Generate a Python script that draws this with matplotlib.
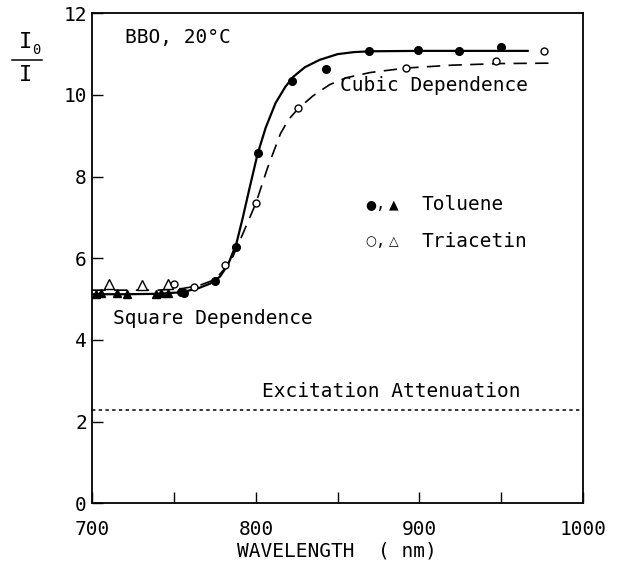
import matplotlib
matplotlib.use("Agg")
import matplotlib.pyplot as plt
from matplotlib.lines import Line2D

# ---- data ----
tol_circ_x = [754, 756, 775, 788, 801, 822, 843, 869, 899, 924, 950]
tol_circ_y = [5.17, 5.15, 5.45, 6.27, 8.57, 10.34, 10.63, 11.08, 11.10, 11.07, 11.18]
tol_tri_x = [702, 705, 715, 721, 739, 742, 746]
tol_tri_y = [5.13, 5.15, 5.14, 5.13, 5.12, 5.15, 5.15]

tri_circ_x = [750, 762, 781, 800, 826, 892, 947, 976]
tri_circ_y = [5.37, 5.30, 5.84, 7.36, 9.67, 10.65, 10.83, 11.08]
tri_tri_x = [710, 730, 746]
tri_tri_y = [5.36, 5.35, 5.38]

# fitted curves
fit_tol_x = [700, 720, 740, 755, 765, 772, 778, 783, 788, 792, 796, 801, 806,
             812, 818, 823, 830, 839, 850, 860, 870, 900, 967]
fit_tol_y = [5.12, 5.12, 5.13, 5.17, 5.27, 5.38, 5.55, 5.85, 6.35, 7.0, 7.7, 8.55,
             9.2, 9.8, 10.2, 10.45, 10.68, 10.86, 11.0, 11.05, 11.07, 11.08, 11.08]

fit_tri_x = [700, 720, 740, 755, 765, 775, 781, 786, 792, 800, 807, 815, 820,
             826, 835, 845, 855, 870, 892, 920, 950, 982]
fit_tri_y = [5.22, 5.22, 5.22, 5.26, 5.33, 5.48, 5.75, 6.05, 6.6, 7.35, 8.2, 9.05,
             9.4, 9.67, 9.98, 10.25, 10.42, 10.55, 10.66, 10.73, 10.77, 10.78]

atten_level = 2.28

x_ticks = [700, 750, 800, 850, 900, 950, 1000]
x_labels = ["700", "", "800", "", "900", "", "1000"]
y_ticks = [0, 2, 4, 6, 8, 10, 12]
y_labels = ["0", "2", "4", "6", "8", "10", "12"]

MONO = ["DejaVu Sans Mono", "DejaVu Sans"]
plt.rcParams["font.family"] = MONO

fig = plt.figure(figsize=(6.19, 5.84), dpi=100)
ax = fig.add_axes([0.1494, 0.1382, 0.9414 - 0.1494, 0.9772 - 0.1382])

ax.plot(fit_tol_x, fit_tol_y, color="black", lw=1.6, solid_capstyle="butt")
ax.plot(fit_tri_x, fit_tri_y, color="black", lw=1.2, ls=(0, (8, 5)))
ax.axhline(atten_level, color="black", lw=1.1, ls=(0, (2.2, 2.2)))

ax.plot(tol_tri_x, tol_tri_y, ls="none", marker="^", ms=6, color="black")
ax.plot(tri_tri_x, tri_tri_y, ls="none", marker="^", ms=6.5, mfc="white",
        mec="black", mew=1.0)
ax.plot(tol_circ_x, tol_circ_y, ls="none", marker="o", ms=5.5, color="black")
ax.plot(tri_circ_x, tri_circ_y, ls="none", marker="o", ms=5, mfc="white",
        mec="black", mew=1.0)

ax.set_xlim(700, 1000)
ax.set_ylim(0, 12)
ax.set_xticks(x_ticks)
ax.set_xticklabels(x_labels)
ax.set_yticks(y_ticks)
ax.set_yticklabels(y_labels)
ax.tick_params(direction="in", length=8, width=1.0, labelsize=14)
ax.tick_params(axis="x", pad=12)
ax.tick_params(axis="y", pad=4)
for s in ax.spines.values():
    s.set_linewidth(1.3)

fs = 14
ax.text(720, 11.4, "BBO, 20°C", fontsize=fs, va="center", ha="left")
ax.text(851.5, 10.24, "Cubic Dependence", fontsize=fs, va="center", ha="left")
ax.text(712.8, 4.53, "Square Dependence", fontsize=fs, va="center", ha="left")
ax.text(803.7, 2.73, "Excitation Attenuation", fontsize=fs, va="center", ha="left")

# key
ax.text(870.3, 7.31, "●", fontsize=9, va="center", ha="center", family=["DejaVu Sans"])
ax.text(876.5, 7.2, ",", fontsize=11, va="baseline", ha="center")
ax.text(884.2, 7.31, "▲", fontsize=9, va="center", ha="center", family=["DejaVu Sans"])
ax.text(901.6, 7.31, "Toluene", fontsize=fs, va="center", ha="left")
ax.text(870.3, 6.41, "○", fontsize=9, va="center", ha="center", family=["DejaVu Sans"])
ax.text(876.5, 6.3, ",", fontsize=11, va="baseline", ha="center")
ax.text(884.2, 6.41, "△", fontsize=9, va="center", ha="center", family=["DejaVu Sans"])
ax.text(901.6, 6.41, "Triacetin", fontsize=fs, va="center", ha="left")

# axis titles
fig.text(0.545, 1 - 551 / 584, "WAVELENGTH  ( nm)", fontsize=fs, ha="center", va="center")
fig.text(26 / 619, 1 - 42 / 584, "I", fontsize=16, ha="center", va="center")
fig.text(36 / 619, 1 - 50 / 584, "0", fontsize=10, ha="center", va="center")
fig.add_artist(Line2D([12 / 619, 42 / 619], [1 - 59.5 / 584, 1 - 59.5 / 584],
                      color="black", lw=1.1, transform=fig.transFigure))
fig.text(26 / 619, 1 - 75 / 584, "I", fontsize=16, ha="center", va="center")

fig.savefig("out.png", dpi=100)
